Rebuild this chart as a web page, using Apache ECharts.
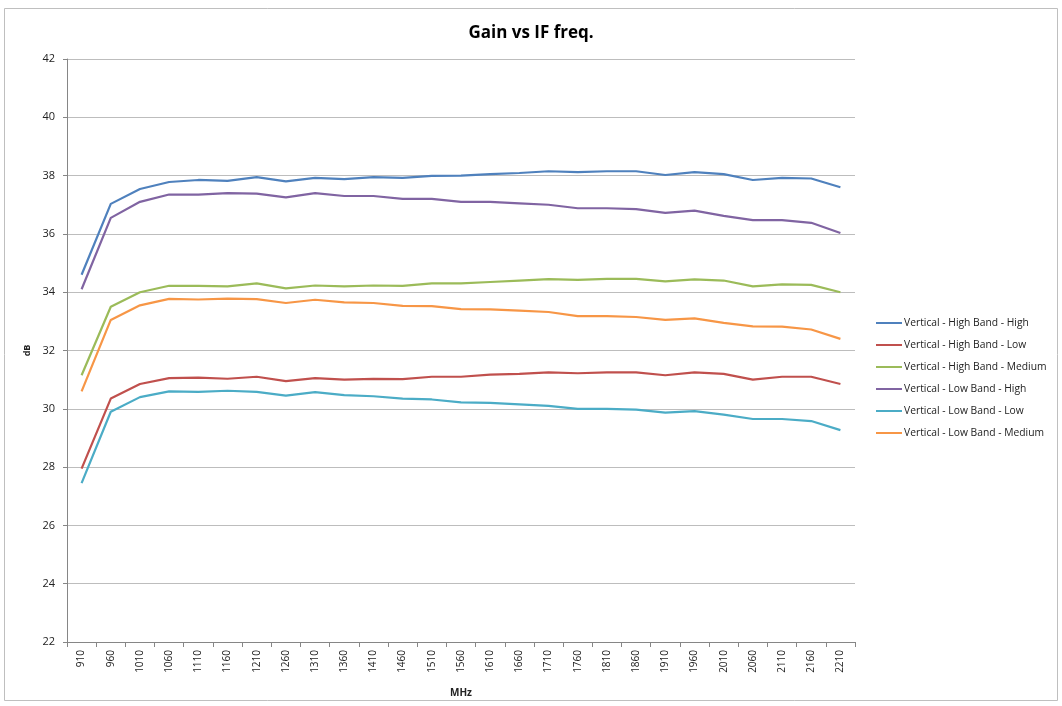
<!DOCTYPE html>
<html><head><meta charset="utf-8">
<script src="https://cdn.jsdelivr.net/npm/echarts@6/dist/echarts.min.js"></script>
<style>html,body{margin:0;padding:0;background:#fff}#c{width:1062px;height:706px}</style>
</head><body><div id="c"></div>
<script>
var categories = ['910','960','1010','1060','1110','1160','1210','1260','1310','1360','1410','1460','1510','1560','1610','1660','1710','1760','1810','1860','1910','1960','2010','2060','2110','2160','2210'];
var seriesNames = ['Vertical - High Band - High','Vertical - High Band - Low','Vertical - High Band - Medium','Vertical - Low Band - High','Vertical - Low Band - Low','Vertical - Low Band - Medium'];
var hbHigh = [34.6,37.03,37.54,37.78,37.85,37.82,37.95,37.8,37.92,37.88,37.95,37.92,37.99,38.0,38.05,38.09,38.15,38.12,38.15,38.15,38.02,38.12,38.05,37.85,37.92,37.9,37.6];
var hbLow = [27.95,30.35,30.85,31.05,31.07,31.03,31.1,30.95,31.05,31.0,31.03,31.02,31.1,31.1,31.17,31.2,31.25,31.22,31.25,31.25,31.15,31.25,31.2,31.0,31.1,31.1,30.85];
var hbMed = [31.15,33.5,34.0,34.22,34.22,34.2,34.3,34.13,34.23,34.2,34.23,34.22,34.3,34.3,34.35,34.4,34.45,34.42,34.46,34.46,34.37,34.44,34.4,34.2,34.27,34.25,34.0];
var lbHigh = [34.1,36.55,37.1,37.35,37.35,37.4,37.38,37.25,37.4,37.3,37.3,37.2,37.2,37.1,37.1,37.05,37.0,36.88,36.88,36.85,36.72,36.8,36.62,36.47,36.47,36.38,36.03];
var lbLow = [27.45,29.9,30.4,30.6,30.58,30.62,30.58,30.45,30.57,30.47,30.43,30.35,30.32,30.22,30.2,30.15,30.1,30.0,30.0,29.97,29.87,29.92,29.8,29.65,29.65,29.58,29.27];
var lbMed = [30.6,33.05,33.55,33.77,33.75,33.78,33.76,33.63,33.74,33.65,33.63,33.53,33.52,33.42,33.41,33.37,33.32,33.18,33.18,33.15,33.05,33.1,32.95,32.83,32.82,32.72,32.4];
var colors = ['#4F81BD','#C0504D','#9BBB59','#8064A2','#4BACC6','#F79646'];
var allData = [hbHigh, hbLow, hbMed, lbHigh, lbLow, lbMed];

var chart = echarts.init(document.getElementById('c'));
var font = '"Open Sans", "Liberation Sans", sans-serif';
chart.setOption({
  animation: false,
  color: colors,
  graphic: [{type:'rect', shape:{x:4.5,y:8.5,width:1053,height:692}, style:{fill:'none', stroke:'#bfbfbf', lineWidth:1}, silent:true}],
  title: {text:'Gain vs IF freq.', left:'center', top:20, textStyle:{fontFamily:font, fontSize:17, fontWeight:'bold', color:'#000'}},
  grid: {left:67, right:207, top:59, bottom:64},
  legend: {
    orient:'vertical', left:871, top:311, itemGap:8, itemWidth:26, itemHeight:2, icon:'rect',
    textStyle:{fontFamily:font, fontSize:10.3, lineHeight:14, color:'#222', padding:[0,0,0,-3]},
    data: seriesNames
  },
  xAxis: {
    type:'category', data:categories, boundaryGap:true,
    name:'MHz', nameLocation:'middle', nameGap:46,
    nameTextStyle:{fontFamily:font, fontSize:10, fontWeight:'bold', color:'#222'},
    axisLine:{lineStyle:{color:'#868686'}},
    axisTick:{show:true, alignWithLabel:false, length:5, lineStyle:{color:'#868686'}},
    axisLabel:{rotate:90, interval:0, fontFamily:font, fontSize:10, color:'#222', margin:8}
  },
  yAxis: {
    type:'value', min:22, max:42, interval:2,
    name:'dB', nameLocation:'middle', nameGap:32, nameRotate:90,
    nameTextStyle:{fontFamily:font, fontSize:9, fontWeight:'bold', color:'#222'},
    axisLine:{show:true, lineStyle:{color:'#868686'}},
    axisTick:{show:true, length:4, lineStyle:{color:'#868686'}},
    axisLabel:{fontFamily:font, fontSize:11, color:'#222', margin:12},
    splitLine:{lineStyle:{color:'#bdbdbd', width:1}}
  },
  series: seriesNames.map(function(n,i){
    return {name:n, type:'line', data:allData[i], showSymbol:false, symbol:'none', lineStyle:{width:2.2, color:colors[i]}, itemStyle:{color:colors[i]}};
  })
});
</script></body></html>
